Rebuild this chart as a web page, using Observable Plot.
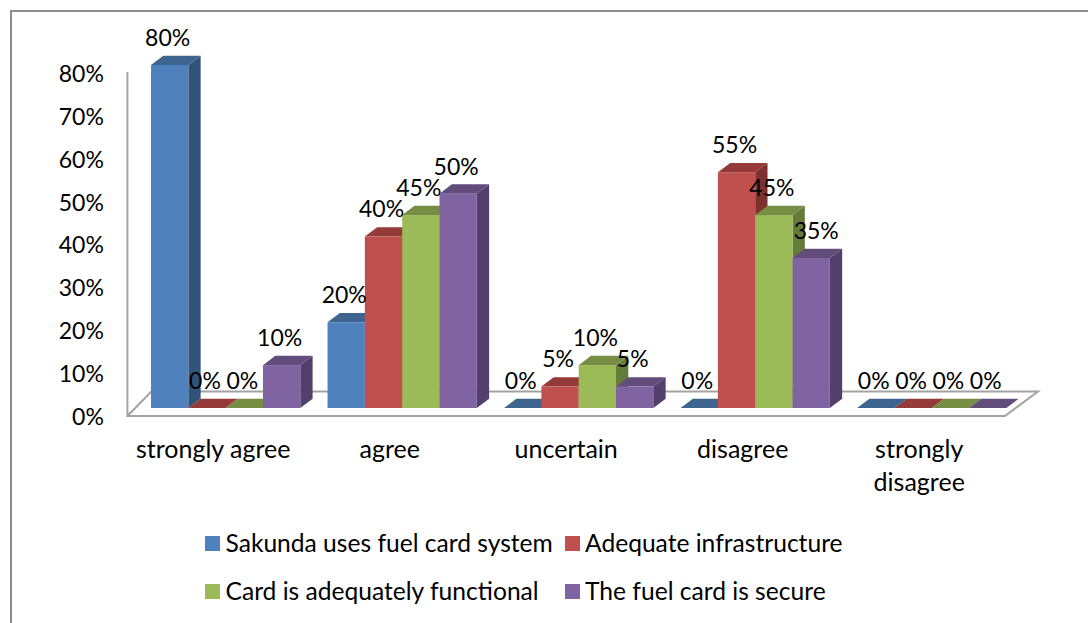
<!DOCTYPE html>
<html><head><meta charset="utf-8">
<script src="https://cdn.jsdelivr.net/npm/d3@7"></script>
<script src="https://cdn.jsdelivr.net/npm/@observablehq/plot@0.6"></script>
<style>
html,body{margin:0;padding:0;background:#fff;overflow:hidden}
#wrap{position:relative;width:1088px;height:623px;font-family:Lato,sans-serif;color:#000}
#border{position:absolute;left:10px;top:10px;right:-10px;bottom:-10px;border:2px solid #8c8c8c;box-sizing:border-box}
#chart svg{display:block;position:relative}
#legend{position:relative;margin-left:205px;margin-top:-1px;display:grid;grid-template-columns:359.5px 300px;font-size:24.6px;line-height:48px}
#legend div{display:flex;align-items:center;white-space:nowrap}
#legend i{display:inline-block;width:15px;height:15px;margin-right:5.5px}
</style></head><body>
<div id="wrap"><div id="border"></div><div id="chart"></div><div id="legend"></div></div>
<script>
const categories = ["strongly agree","agree","uncertain","disagree","strongly disagree"];
const categoryLabels = ["strongly agree","agree","uncertain","disagree","strongly\ndisagree"];
const seriesNames = ["Sakunda uses fuel card system","Adequate infrastructure","Card is adequately functional","The fuel card is secure"];
const sakunda = [80,20,0,0,0];
const infrastructure = [0,40,5,55,0];
const functional = [0,45,10,45,0];
const secure = [10,50,5,35,0];
const yTicks = [0,10,20,30,40,50,60,70,80];
const frontColors = ["#4F81BD","#C0504D","#9BBB59","#8064A2"];
const topColors = ["#3E6490","#943A38","#768E43","#614C7C"];
const sideColors = ["#325378","#7D302E","#667B3A","#523F6B"];
const seriesValues = [sakunda,infrastructure,functional,secure];
const rows = seriesValues.flatMap((vals,s)=>vals.map((v,c)=>({category:categories[c],series:seriesNames[s],value:v})));
const SVGNS="http://www.w3.org/2000/svg";
const DX=12.3, DY=-9.3, FS=23, FSC=25;
function poly(points,fill){const p=document.createElementNS(SVGNS,"polygon");p.setAttribute("points",points.map(d=>d.join(",")).join(" "));p.setAttribute("fill",fill);return p;}
function bars3d(index,scales,values,dims,ctx,next){
  const g=next(index,scales,values,dims,ctx);
  const rects=[...g.querySelectorAll("rect")];
  const bw=scales.x.bandwidth;
  const w=typeof bw==="function"?bw():bw;
  index.forEach((i,k)=>{
    const x=values.x[i], top=Math.min(values.y1[i],values.y2[i]), bot=Math.max(values.y1[i],values.y2[i]);
    const c=frontColors.indexOf(values.fill[i]);
    const r=rects[k];
    r.parentNode.insertBefore(poly([[x+w,top],[x+w+DX,top+DY],[x+w+DX,bot+DY],[x+w,bot]],sideColors[c]),r);
    r.parentNode.insertBefore(poly([[x,top],[x+DX,top+DY],[x+w+DX,top+DY],[x+w,top]],topColors[c]),r);
  });
  return g;
}
function floor(index,scales,values,dims){
  const y0=scales.y(0)+8, yTop=scales.y(80)+7, l=dims.marginLeft-10, r=dims.width-dims.marginRight-15, d=33, h=24.5;
  const s=document.createElementNS(SVGNS,"polyline");
  const pts=[[l,yTop],[l,y0],[r,y0],[r+d,y0-h],[l+24,y0-h],[l,y0]];
  s.setAttribute("points",pts.map(p=>p.join(",")).join(" "));
  s.setAttribute("fill","none");s.setAttribute("stroke","#a3a3a3");s.setAttribute("stroke-width",2);
  return s;
}
const chart = Plot.plot({
  width:1088,height:520,
  marginLeft:137.4,marginRight:68,marginTop:65,marginBottom:112,
  style:{fontFamily:"Lato,sans-serif",fontSize:FS+"px",color:"#000",background:"transparent",overflow:"visible"},
  fx:{domain:categories,paddingInner:0,paddingOuter:0,round:false,axis:null},
  x:{domain:seriesNames,paddingInner:0,paddingOuter:0.365,round:false,axis:null},
  y:{domain:[0,80],axis:null},
  color:{domain:seriesNames,range:frontColors},
  marks:[
    Plot.frame({facet:"super",stroke:"none",render:floor}),
    Plot.axisY({ticks:yTicks,tickFormat:d=>d+"%",tickSize:0,tickPadding:34,dy:9,label:null,fontSize:FS,fill:"#000"}),
    Plot.axisFx({domain:categories,anchor:"bottom",tickSize:0,tickPadding:0,dy:26.5,dx:-13,lineHeight:1.32,label:null,fontSize:FSC,fill:"#000",
      tickFormat:d=>categoryLabels[categories.indexOf(d)]}),
    Plot.barY(rows,{fx:"category",x:"series",y:"value",fill:"series",render:bars3d}),
    Plot.text(rows,{filter:d=>d.value!==35,fx:"category",x:"series",y:"value",text:d=>d.value+"%",dy:-27,dx:-2.5,fontSize:FS,fill:"#000"}),
    Plot.text(rows,{filter:d=>d.value===35,fx:"category",x:"series",y:"value",text:d=>d.value+"%",dy:-27,dx:4.5,fontSize:FS,fill:"#000"})
  ]
});
document.getElementById("chart").append(chart);
const legend=document.getElementById("legend");
seriesNames.forEach((n,i)=>{
  const row=document.createElement("div");
  const sw=document.createElement("i");sw.style.background=frontColors[i];
  row.append(sw,document.createTextNode(n));legend.append(row);
});
</script></body></html>
